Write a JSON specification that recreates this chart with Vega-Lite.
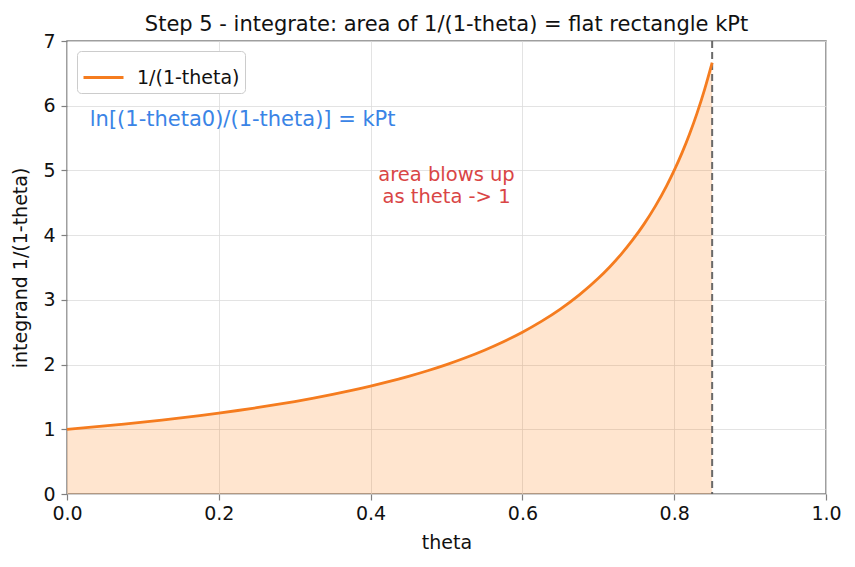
{
  "$schema": "https://vega.github.io/schema/vega-lite/v6.json",
  "autosize": {"type": "none"},
  "width": 759,
  "height": 453,
  "padding": {"left": 67, "top": 41, "right": 29, "bottom": 73},
  "background": "white",
  "title": {"text": "Step 5 - integrate: area of 1/(1-theta) = flat rectangle kPt", "font": "DejaVu Sans", "fontSize": 21, "fontWeight": "normal", "color": "#111", "offset": -3, "anchor": "middle"},
  "config": {
    "font": "DejaVu Sans",
    "view": {"stroke": "#808080", "strokeWidth": 1.5},
    "axis": {"labelFont": "DejaVu Sans", "titleFont": "DejaVu Sans", "labelFontSize": 19, "titleFontSize": 19, "titleFontWeight": "normal", "labelColor": "#111", "titleColor": "#111", "gridColor": "#dcdcdc", "gridWidth": 0.8, "tickColor": "#808080", "tickSize": 6, "tickWidth": 1.2, "domain": false, "labelPadding": 4, "labelFlush": false}
  },
  "datasets": {
    "curve": [
      {"theta": 0, "y": 1}, {"theta": 0.025, "y": 1.02564}, {"theta": 0.05, "y": 1.05263}, {"theta": 0.075, "y": 1.08108},
      {"theta": 0.1, "y": 1.11111}, {"theta": 0.125, "y": 1.14286}, {"theta": 0.15, "y": 1.17647}, {"theta": 0.175, "y": 1.21212},
      {"theta": 0.2, "y": 1.25}, {"theta": 0.225, "y": 1.29032}, {"theta": 0.25, "y": 1.33333}, {"theta": 0.275, "y": 1.37931},
      {"theta": 0.3, "y": 1.42857}, {"theta": 0.325, "y": 1.48148}, {"theta": 0.35, "y": 1.53846}, {"theta": 0.375, "y": 1.6},
      {"theta": 0.4, "y": 1.66667}, {"theta": 0.425, "y": 1.73913}, {"theta": 0.45, "y": 1.81818}, {"theta": 0.475, "y": 1.90476},
      {"theta": 0.5, "y": 2}, {"theta": 0.525, "y": 2.10526}, {"theta": 0.55, "y": 2.22222}, {"theta": 0.575, "y": 2.35294},
      {"theta": 0.6, "y": 2.5}, {"theta": 0.625, "y": 2.66667}, {"theta": 0.65, "y": 2.85714}, {"theta": 0.675, "y": 3.07692},
      {"theta": 0.7, "y": 3.33333}, {"theta": 0.715, "y": 3.50877}, {"theta": 0.73, "y": 3.7037}, {"theta": 0.745, "y": 3.92157},
      {"theta": 0.76, "y": 4.16667}, {"theta": 0.775, "y": 4.44444}, {"theta": 0.79, "y": 4.7619}, {"theta": 0.8, "y": 5},
      {"theta": 0.81, "y": 5.26316}, {"theta": 0.82, "y": 5.55556}, {"theta": 0.83, "y": 5.88235}, {"theta": 0.84, "y": 6.25},
      {"theta": 0.85, "y": 6.66667}
    ]
  },
  "layer": [
    {
      "data": {"name": "curve"},
      "mark": {"type": "area", "color": "#ff7f0e", "opacity": 0.2, "interpolate": "monotone"},
      "encoding": {
        "x": {"field": "theta", "type": "quantitative", "scale": {"domain": [0, 1], "nice": false}, "axis": {"title": "theta", "tickCount": 5, "format": ".1f", "titlePadding": 10}},
        "y": {"field": "y", "type": "quantitative", "scale": {"domain": [0, 7], "nice": false}, "axis": {"title": "integrand 1/(1-theta)", "tickCount": 7, "titlePadding": 12, "labelPadding": 6}}
      }
    },
    {
      "data": {"values": [{"x": 0.85}]},
      "mark": {"type": "rule", "color": "#5a5a5a", "strokeWidth": 2, "strokeDash": [7, 4], "opacity": 0.9},
      "encoding": {"x": {"field": "x", "type": "quantitative"}}
    },
    {
      "data": {"name": "curve"},
      "mark": {"type": "line", "strokeWidth": 2.8, "interpolate": "monotone"},
      "encoding": {
        "x": {"field": "theta", "type": "quantitative"},
        "y": {"field": "y", "type": "quantitative"},
        "color": {"datum": "1/(1-theta)", "type": "nominal", "scale": {"range": ["#f57c1f"]},
          "legend": {"title": null, "orient": "top-left", "offset": 10, "symbolType": "stroke", "symbolStrokeWidth": 3, "symbolSize": 1600, "labelFontSize": 19, "labelFont": "DejaVu Sans", "labelColor": "#111", "strokeColor": "#cccccc", "fillColor": "white", "cornerRadius": 4, "padding": 5, "labelOffset": 12}}
      }
    },
    {
      "data": {"values": [{"x": 0.03, "y": 5.78, "t": "ln[(1-theta0)/(1-theta)] = kPt"}]},
      "mark": {"type": "text", "align": "left", "baseline": "middle", "fontSize": 21, "color": "#3a84e6", "font": "DejaVu Sans"},
      "encoding": {"x": {"field": "x", "type": "quantitative"}, "y": {"field": "y", "type": "quantitative"}, "text": {"field": "t"}}
    },
    {
      "data": {"values": [{"x": 0.5, "y": 4.93, "t": ["area blows up", "as theta -> 1"]}]},
      "mark": {"type": "text", "align": "center", "baseline": "middle", "fontSize": 19.5, "lineHeight": 22, "color": "#d94545", "font": "DejaVu Sans"},
      "encoding": {"x": {"field": "x", "type": "quantitative"}, "y": {"field": "y", "type": "quantitative"}, "text": {"field": "t"}}
    }
  ]
}
